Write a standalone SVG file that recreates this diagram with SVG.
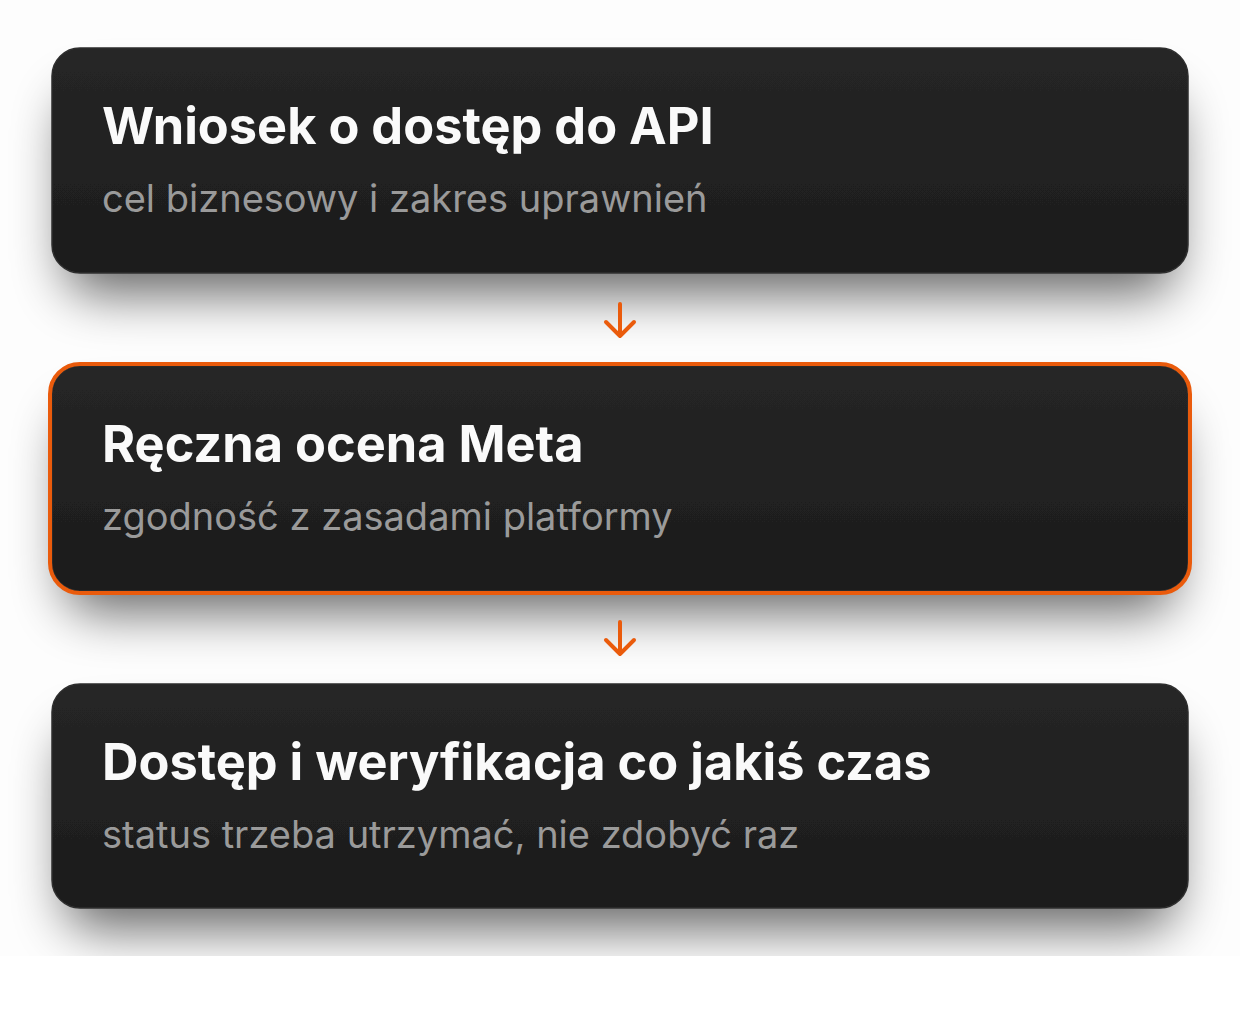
<svg xmlns="http://www.w3.org/2000/svg" width="1240" height="1010" viewBox="0 0 1240 1010">
<defs>
<linearGradient id="card" x1="0" y1="0" x2="0" y2="1">
<stop offset="0" stop-color="#262626"/>
<stop offset="1" stop-color="#1c1c1c"/>
</linearGradient>
<filter id="shadow" x="-10%" y="-30%" width="120%" height="190%">
<feMorphology in="SourceAlpha" operator="erode" radius="14" result="e"/>
<feGaussianBlur in="e" stdDeviation="26" result="b"/>
<feOffset in="b" dx="0" dy="34" result="o"/>
<feComponentTransfer in="o" result="s"><feFuncA type="linear" slope="0.6"/></feComponentTransfer>
<feMerge><feMergeNode in="s"/><feMergeNode in="SourceGraphic"/></feMerge>
</filter>
<clipPath id="page"><rect x="0" y="0" width="1240" height="956"/></clipPath>
</defs>
<style>
.card{fill:url(#card);stroke:#2e2e2e;stroke-width:1.5}
.hl{fill:none;stroke:#ea5b0c;stroke-width:4}
.title{font-family:Inter,"Liberation Sans",sans-serif;font-weight:700;font-size:50.5px;fill:#fafafa}
.sub{font-family:Inter,"Liberation Sans",sans-serif;font-weight:400;font-size:38px;fill:#9a9a9a}
.arrow{fill:none;stroke:#ea5b0c;stroke-width:4;stroke-linecap:round;stroke-linejoin:round}
</style>
<rect width="1240" height="1010" fill="#ffffff"/>
<g clip-path="url(#page)">
<rect width="1240" height="956" fill="#fdfdfd"/>
<g id="node1">
<rect class="card" x="52" y="48" width="1136" height="225" rx="28" filter="url(#shadow)"/>
<text class="title" x="102" y="144">Wniosek o dostęp do API</text>
<text class="sub" x="102" y="212">cel biznesowy i zakres uprawnień</text>
</g>
<g id="node2">
<rect class="card" x="52" y="366" width="1136" height="225" rx="28" filter="url(#shadow)"/>
<rect class="hl" x="50" y="364" width="1140" height="229" rx="30"/>
<text class="title" x="102" y="462">Ręczna ocena Meta</text>
<text class="sub" x="102" y="530">zgodność z zasadami platformy</text>
</g>
<g id="node3">
<rect class="card" x="52" y="684" width="1136" height="224" rx="28" filter="url(#shadow)"/>
<text class="title" x="102" y="780">Dostęp i weryfikacja co jakiś czas</text>
<text class="sub" x="102" y="848">status trzeba utrzymać, nie zdobyć raz</text>
</g>
<g id="connectors">
<path class="arrow" d="M620 304 V336 M606 322 L620 336 L634 322"/>
<path class="arrow" d="M620 622 V654 M606 640 L620 654 L634 640"/>
</g>
</g>
</svg>
